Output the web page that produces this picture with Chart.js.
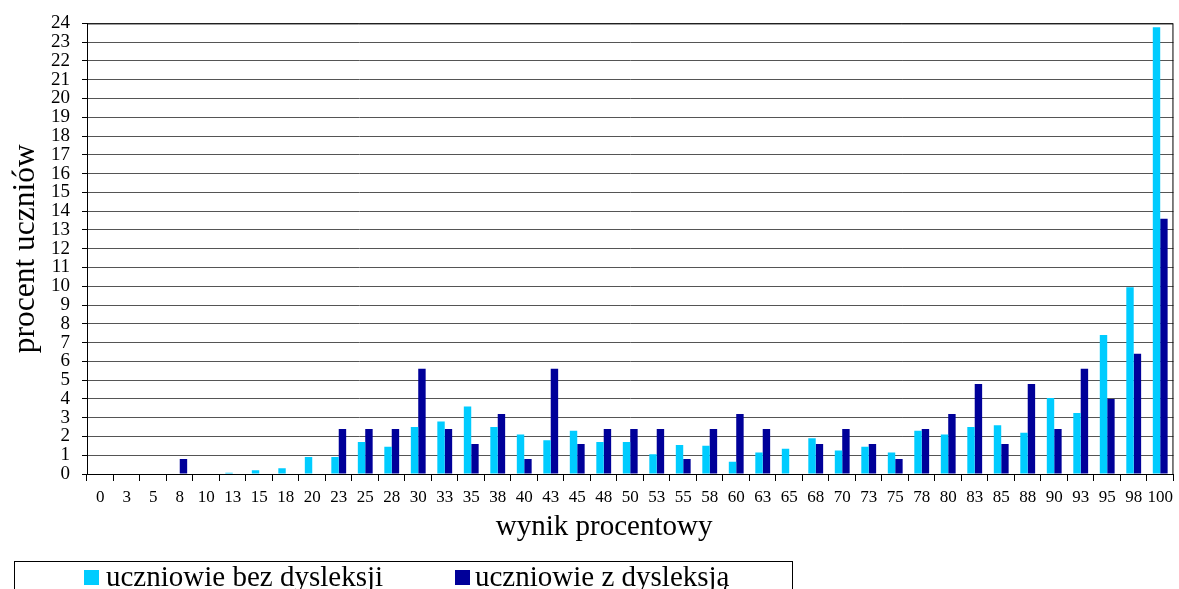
<!DOCTYPE html>
<html>
<head>
<meta charset="utf-8">
<script src="https://cdn.jsdelivr.net/npm/chart.js@4/dist/chart.umd.min.js"></script>
<style>
  html, body { margin: 0; padding: 0; background: #fff; overflow: hidden; }
  #wrap { position: relative; width: 1179px; height: 589px; overflow: hidden; background: #fff; }
  #c { position: absolute; left: 0; top: 0; }
  #legend { position: absolute; left: 14px; top: 561px; width: 777px; height: 60px; border: 1px solid #000; box-sizing: content-box; }
  .sw { position: absolute; width: 15px; height: 15px; top: 8px; }
  .lt { position: absolute; top: 0px; font-family: "Liberation Serif", "Times New Roman", serif; font-size: 29px; line-height: 29px; color: #000; white-space: nowrap; }
</style>
</head>
<body>
<div id="wrap">
  <canvas id="c" width="1179" height="589"></canvas>
  <div id="legend">
    <div class="sw" style="left:69px;background:#00CCFF"></div>
    <div class="lt" style="left:91px">uczniowie bez dysleksji</div>
    <div class="sw" style="left:440px;background:#000099"></div>
    <div class="lt" style="left:460px">uczniowie z dysleksją</div>
  </div>
</div>
<script>
const categories = ["0","3","5","8","10","13","15","18","20","23","25","28","30","33","35","38","40","43","45","48","50","53","55","58","60","63","65","68","70","73","75","78","80","83","85","88","90","93","95","98","100"];
const bezDysleksji = [0,0,0,0,0,0.07,0.2,0.3,0.9,0.9,1.7,1.45,2.5,2.8,3.6,2.5,2.1,1.8,2.3,1.7,1.7,1.05,1.55,1.5,0.65,1.15,1.35,1.9,1.25,1.45,1.15,2.3,2.1,2.5,2.6,2.2,4.05,3.25,7.4,9.95,23.8];
const zDysleksja = [0,0,0,0.8,0,0,0,0,0,2.4,2.4,2.4,5.6,2.4,1.6,3.2,0.8,5.6,1.6,2.4,2.4,2.4,0.8,2.4,3.2,2.4,0,1.6,2.4,1.6,0.8,2.4,3.2,4.8,1.6,4.8,2.4,5.6,4.0,6.4,13.6];
const yTicks = [0,1,2,3,4,5,6,7,8,9,10,11,12,13,14,15,16,17,18,19,20,21,22,23,24];
const xTitle = 'wynik procentowy';
const yTitle = 'procent uczniów';

const serif = "'Liberation Serif', 'Times New Roman', serif";

const frame = {
  id: 'frame',
  afterDraw(chart) {
    const {ctx, chartArea: a} = chart;
    ctx.save();
    ctx.strokeStyle = '#000';
    ctx.lineWidth = 1;
    ctx.beginPath();
    ctx.moveTo(a.left, a.top + 0.5);
    ctx.lineTo(a.right - 0.5, a.top + 0.5);
    ctx.lineTo(a.right - 0.5, a.bottom);
    ctx.stroke();
    // x axis title, placed slightly left of the plot centre as in the original
    const xs = chart.scales.x;
    ctx.fillStyle = '#000';
    ctx.font = "29px " + serif;
    ctx.textAlign = 'center';
    ctx.textBaseline = 'middle';
    ctx.fillText(xTitle, a.left + (a.right - a.left) * 0.476, xs.bottom - 17.4);
    ctx.restore();
  }
};

new Chart(document.getElementById('c'), {
  type: 'bar',
  data: {
    labels: categories,
    datasets: [
      { label: 'uczniowie bez dysleksji', data: bezDysleksji, backgroundColor: '#00CCFF', borderWidth: 0 },
      { label: 'uczniowie z dysleksją', data: zDysleksja, backgroundColor: '#000099', borderWidth: 0 }
    ]
  },
  options: {
    responsive: false,
    animation: false,
    devicePixelRatio: 1,
    layout: { padding: { top: 23, right: 3, bottom: 44.6, left: 0 } },
    datasets: { bar: { categoryPercentage: 0.56, barPercentage: 1.0 } },
    plugins: { legend: { display: false }, tooltip: { enabled: false } },
    scales: {
      x: {
        afterFit(scale) { scale.height = 70.4; },
        grid: { display: true, drawOnChartArea: false, drawTicks: true, tickLength: 7, color: '#000', offset: true },
        border: { display: true, color: '#000', width: 1 },
        ticks: { color: '#000', font: { family: serif, size: 17 }, padding: 6, autoSkip: false, maxRotation: 0, minRotation: 0 },
        title: { display: false }
      },
      y: {
        min: 0, max: 24,
        afterFit(scale) { scale.width = 87; },
        afterBuildTicks(scale) { scale.ticks = yTicks.map(v => ({ value: v })); },
        grid: { color: '#555', lineWidth: 1, tickLength: 5, drawTicks: true, tickColor: '#000' },
        border: { display: true, color: '#000', width: 1 },
        ticks: { color: '#000', font: { family: serif, size: 19 }, padding: 12, autoSkip: false, stepSize: 1 },
        title: { display: true, text: yTitle, color: '#000', font: { family: serif, size: 31.5 }, padding: { top: 7.1, bottom: 4 } }
      }
    }
  },
  plugins: [frame]
});
</script>
</body>
</html>
